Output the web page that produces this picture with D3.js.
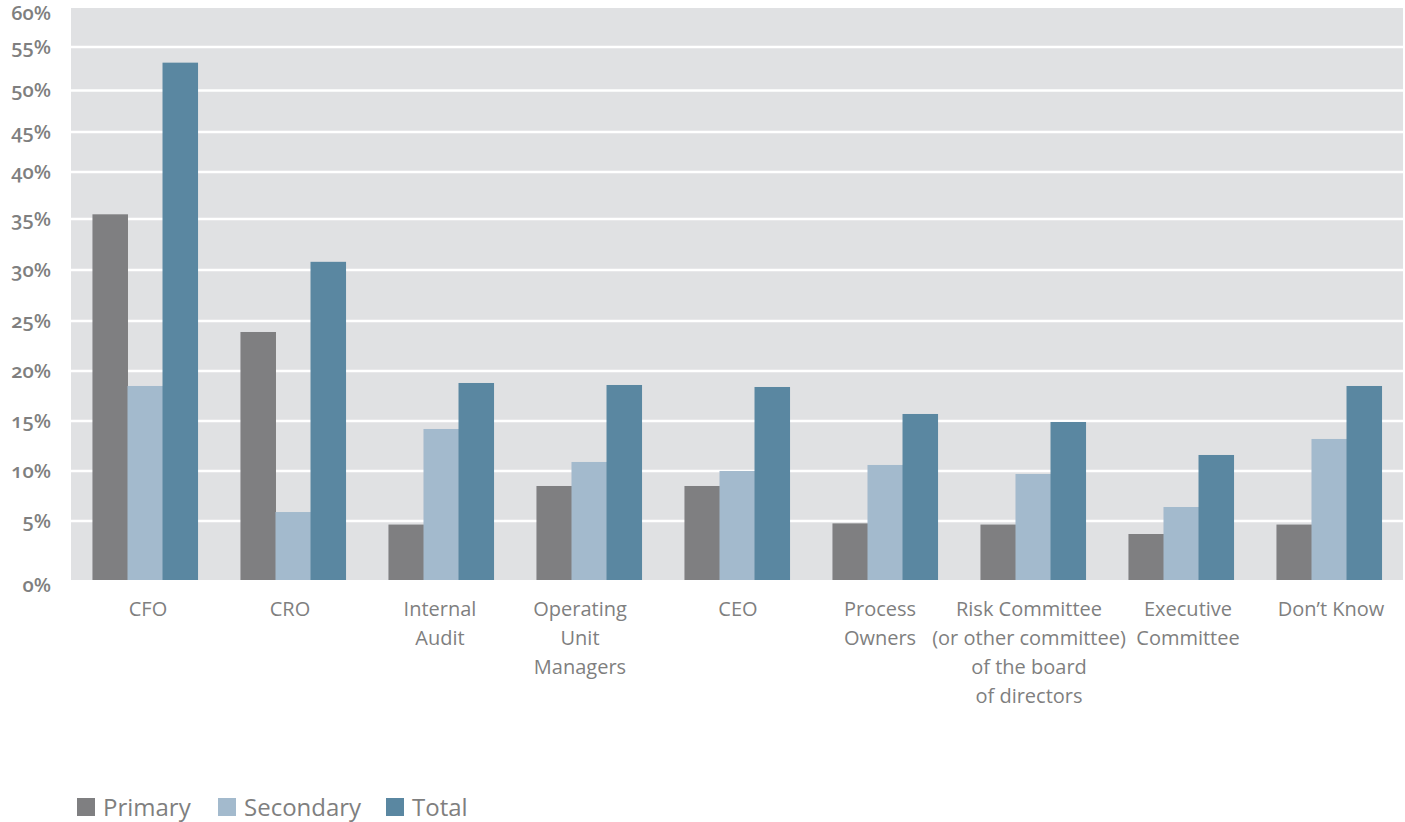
<!DOCTYPE html>
<html>
<head>
<meta charset="utf-8">
<script src="https://cdn.jsdelivr.net/npm/d3@7"></script>
<style>
  html, body { margin: 0; padding: 0; background: #ffffff; }
  svg { display: block; }
  text { font-family: "Open Sans", "Noto Sans", sans-serif; fill: #7f7f7f; }
</style>
</head>
<body>
<svg id="chart" width="1405" height="822"></svg>
<script>
// Who owns the risk function — share of responses per role
const categories = [
  "CFO",
  "CRO",
  "Internal Audit",
  "Operating Unit Managers",
  "CEO",
  "Process Owners",
  "Risk Committee (or other committee) of the board of directors",
  "Executive Committee",
  "Don\u2019t Know"
];
// Wrapped label lines for each category
const categoryLines = [
  ["CFO"],
  ["CRO"],
  ["Internal", "Audit"],
  ["Operating", "Unit", "Managers"],
  ["CEO"],
  ["Process", "Owners"],
  ["Risk Committee", "(or other committee)", "of the board", "of directors"],
  ["Executive", "Committee"],
  ["Don\u2019t Know"]
];
const seriesNames = ["Primary", "Secondary", "Total"];
const primary   = [35.5, 23.9, 4.7, 8.5, 8.5, 4.8, 4.7, 3.9, 4.7];
const secondary = [18.5,  5.9, 14.2, 10.9, 10.0, 10.6, 9.7, 6.4, 13.2];
const total     = [53.2, 30.8, 18.8, 18.6, 18.4, 15.7, 14.9, 11.6, 18.5];
const tickValues = [0, 5, 10, 15, 20, 25, 30, 35, 40, 45, 50, 55, 60];
const colors = ["#7f7f81", "#a3bacd", "#5a87a1"];

const seriesValues = [primary, secondary, total];

const svg = d3.select("#chart");
const plot = { left: 71, right: 1403, top: 8, bottom: 580 };

// The printed value axis has uneven gridline spacing; map each tick to its band.
const tickFractions = [0, 0.1031, 0.1906, 0.2780, 0.3654, 0.4528, 0.5420, 0.6311, 0.7133, 0.7832, 0.8558, 0.9318, 1];
const y = d3.scaleLinear()
  .domain(tickValues)
  .range(tickFractions.map(f => plot.bottom - f * (plot.bottom - plot.top)));

const x = d3.scaleBand()
  .domain(categories)
  .range([plot.left, plot.right])
  .paddingInner(0.29)
  .paddingOuter(0.145);

const xs = d3.scaleBand()
  .domain(seriesNames)
  .range([0, x.bandwidth()]);

// Horizontal nudges for the category labels, as typeset
const labelNudge = [3, -3, -1, -9, 1, -5, -4, 7, 2];

// Plot background
svg.append("rect")
  .attr("x", plot.left).attr("y", plot.top)
  .attr("width", plot.right - plot.left)
  .attr("height", plot.bottom - plot.top)
  .attr("fill", "#e0e1e3");

// Gridlines
svg.append("g")
  .selectAll("line")
  .data(tickValues.filter(v => v > 0 && v < 60))
  .join("line")
  .attr("x1", plot.left).attr("x2", plot.right)
  .attr("y1", d => y(d)).attr("y2", d => y(d))
  .attr("stroke", "#ffffff")
  .attr("stroke-width", 2.6);

// Value axis labels
const yAxis = d3.axisLeft(y)
  .tickValues(tickValues)
  .tickFormat(d => d + "%")
  .tickSize(0)
  .tickPadding(20);
const gy = svg.append("g")
  .attr("transform", `translate(${plot.left},0)`)
  .call(yAxis);
gy.select(".domain").remove();
gy.selectAll("text")
  .attr("font-size", 20)
  .attr("font-weight", 600)
  .style("font-variant-numeric", "oldstyle-nums")
  .attr("fill", "#808080")
  .attr("dy", (d) => d === 0 ? "0.55em" : (d === 60 ? "0.55em" : "0.32em"));

// Bars
const groups = svg.append("g")
  .selectAll("g")
  .data(categories)
  .join("g")
  .attr("transform", d => `translate(${x(d)},0)`);

groups.selectAll("rect")
  .data((d, i) => seriesNames.map((s, j) => ({ s, v: seriesValues[j][i], j })))
  .join("rect")
  .attr("x", d => xs(d.s))
  .attr("width", xs.bandwidth() + 0.5)
  .attr("y", d => y(d.v))
  .attr("height", d => y(0) - y(d.v))
  .attr("fill", d => colors[d.j]);

// Category labels
const xAxis = d3.axisBottom(x).tickSize(0).tickFormat("");
const gx = svg.append("g")
  .attr("transform", `translate(0,${plot.bottom})`)
  .call(xAxis);
gx.select(".domain").remove();
gx.selectAll(".tick").each(function(d, i) {
  const t = d3.select(this).append("text")
    .attr("text-anchor", "middle")
    .attr("font-size", 20)
    .attr("fill", "#7f7f7f");
  categoryLines[i].forEach((line, k) => {
    t.append("tspan")
      .attr("x", labelNudge[i])
      .attr("y", 36 + k * 29)
      .text(line);
  });
});

// Legend
const legend = svg.append("g").attr("transform", "translate(77,798)");
const legendOffsets = [0, 141, 309];
seriesNames.forEach((name, j) => {
  const g = legend.append("g").attr("transform", `translate(${legendOffsets[j]},0)`);
  g.append("rect").attr("width", 18).attr("height", 18).attr("fill", colors[j]);
  g.append("text")
    .attr("x", 26).attr("y", 18)
    .attr("font-size", 24)
    .attr("fill", "#7f7f7f")
    .text(name);
});
</script>
</body>
</html>
